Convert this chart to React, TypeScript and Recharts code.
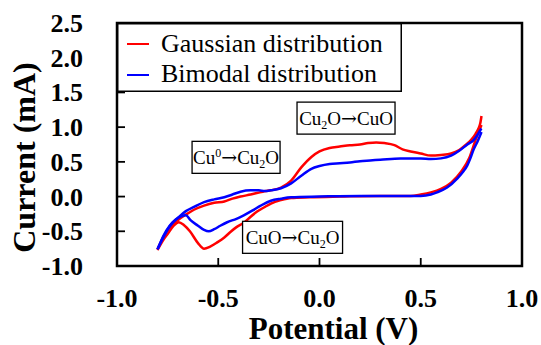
import { LineChart, Line, XAxis, YAxis, ReferenceArea, ReferenceDot, Legend } from 'recharts';

const SERIF = '"Times New Roman", "Liberation Serif", Times, serif';

type Pt = { v: number; i: number };
const toPts = (rows: number[][]): Pt[] => rows.map(([v, i]) => ({ v, i }));

// potential (V), current (mA)
const gaussianAnodic = toPts([
  [-0.8, -0.76], [-0.77, -0.58], [-0.74, -0.45], [-0.7, -0.34], [-0.66, -0.26], [-0.62, -0.19],
  [-0.57, -0.13], [-0.52, -0.09], [-0.47, -0.07], [-0.43, -0.03], [-0.39, 0.0], [-0.34, 0.03],
  [-0.28, 0.07], [-0.24, 0.09], [-0.19, 0.13], [-0.14, 0.23], [-0.09, 0.42], [-0.04, 0.57],
  [0.0, 0.65], [0.05, 0.7], [0.1, 0.72], [0.15, 0.74], [0.2, 0.75], [0.24, 0.77], [0.28, 0.78],
  [0.32, 0.77], [0.37, 0.74], [0.41, 0.68], [0.45, 0.65], [0.5, 0.62], [0.55, 0.59], [0.6, 0.6],
  [0.65, 0.62], [0.69, 0.67], [0.72, 0.74], [0.75, 0.82], [0.77, 0.9], [0.785, 0.98],
  [0.795, 1.07], [0.8, 1.16],
]);

const gaussianCathodic = toPts([
  [-0.8, -0.77], [-0.77, -0.62], [-0.75, -0.54], [-0.72, -0.42], [-0.695, -0.37], [-0.67, -0.41],
  [-0.64, -0.5], [-0.6, -0.67], [-0.57, -0.75], [-0.54, -0.72], [-0.505, -0.66], [-0.47, -0.59],
  [-0.44, -0.51], [-0.41, -0.44], [-0.37, -0.37], [-0.34, -0.29], [-0.31, -0.22], [-0.27, -0.15],
  [-0.24, -0.1], [-0.19, -0.05], [-0.14, -0.02], [-0.05, -0.01], [0.1, 0.0], [0.3, 0.01],
  [0.45, 0.01], [0.5, 0.03], [0.55, 0.06], [0.6, 0.11], [0.65, 0.2], [0.7, 0.36], [0.74, 0.56],
  [0.77, 0.81], [0.8, 1.03],
]);

const bimodalAnodic = toPts([
  [-0.8, -0.76], [-0.77, -0.56], [-0.74, -0.42], [-0.7, -0.31], [-0.66, -0.21], [-0.62, -0.15],
  [-0.57, -0.08], [-0.52, -0.04], [-0.47, -0.01], [-0.43, 0.03], [-0.39, 0.07], [-0.34, 0.09],
  [-0.3, 0.09], [-0.27, 0.08], [-0.24, 0.09], [-0.19, 0.12], [-0.14, 0.19], [-0.09, 0.3],
  [-0.04, 0.4], [0.0, 0.44], [0.05, 0.47], [0.1, 0.48], [0.15, 0.49], [0.2, 0.51], [0.25, 0.52],
  [0.3, 0.53], [0.4, 0.55], [0.5, 0.55], [0.55, 0.54], [0.6, 0.55], [0.65, 0.59], [0.69, 0.66],
  [0.73, 0.75], [0.76, 0.81], [0.78, 0.89], [0.795, 0.96], [0.8, 0.98],
]);

const bimodalCathodic = toPts([
  [-0.8, -0.76], [-0.77, -0.58], [-0.74, -0.43], [-0.71, -0.33], [-0.68, -0.28], [-0.66, -0.27],
  [-0.637, -0.34], [-0.6, -0.42], [-0.57, -0.48], [-0.547, -0.5], [-0.52, -0.47], [-0.49, -0.42],
  [-0.456, -0.37], [-0.41, -0.32], [-0.374, -0.27], [-0.33, -0.2], [-0.29, -0.13], [-0.24, -0.06],
  [-0.19, -0.03], [-0.14, -0.01], [0.0, 0.0], [0.2, 0.01], [0.4, 0.01], [0.5, 0.01], [0.55, 0.03],
  [0.58, 0.06], [0.63, 0.13], [0.68, 0.26], [0.71, 0.36], [0.73, 0.45], [0.745, 0.55],
  [0.76, 0.67], [0.78, 0.79], [0.8, 0.93],
]);

const xTicks = [-1.0, -0.5, 0.0, 0.5, 1.0];
const yTicks = [-1.0, -0.5, 0.0, 0.5, 1.0, 1.5, 2.0, 2.5];

type Seg = { t: string; pos?: 'sub' | 'sup' | 'arrow' };
type Note = { v: number; i: number; w: number; parts: Seg[] };

const notes: Note[] = [
  { v: 0.131, i: 1.13, w: 98, parts: [{ t: 'Cu' }, { t: '2', pos: 'sub' }, { t: 'O' }, { t: '→', pos: 'arrow' }, { t: 'CuO' }] },
  { v: -0.412, i: 0.565, w: 88, parts: [{ t: 'Cu' }, { t: '0', pos: 'sup' }, { t: '→', pos: 'arrow' }, { t: 'Cu' }, { t: '2', pos: 'sub' }, { t: 'O' }] },
  { v: -0.133, i: -0.587, w: 100, parts: [{ t: 'CuO' }, { t: '→', pos: 'arrow' }, { t: 'Cu' }, { t: '2', pos: 'sub' }, { t: 'O' }] },
];

const series = [
  { name: 'Gaussian distribution', color: '#ff0000' },
  { name: 'Bimodal distribution', color: '#0000ff' },
];

function NoteBox({ cx, cy, note }: { cx: number; cy: number; note: Note }) {
  let shift = 0;
  return (
    <g>
      <rect x={cx - note.w / 2} y={cy - 16} width={note.w} height={32} fill="#fff" stroke="#000" strokeWidth={1.3} />
      <text x={cx} y={cy + 7} textAnchor="middle" fontSize={19} fontFamily={SERIF} fill="#000">
        {note.parts.map((p, k) => {
          const target = p.pos === 'sub' ? 4 : p.pos === 'sup' ? -7 : 0;
          const dy = target - shift;
          shift = target;
          const size = p.pos === 'sub' || p.pos === 'sup' ? 12 : 19;
          return (
            <tspan
              key={k}
              dy={dy}
              fontSize={size}
              fontFamily={p.pos === 'arrow' ? '"DejaVu Serif", serif' : undefined}
            >
              {p.t}
            </tspan>
          );
        })}
      </text>
    </g>
  );
}

const YTick = ({ x, y, payload }: any) => (
  <text x={x} y={y} dy={9} textAnchor="end" fontSize={26} fontWeight="bold" fontFamily={SERIF} fill="#000">
    {Number(payload.value).toFixed(1)}
  </text>
);

const XTick = ({ x, y, payload }: any) => (
  <text x={x} y={y} textAnchor="middle" fontSize={26} fontWeight="bold" fontFamily={SERIF} fill="#000">
    {Number(payload.value).toFixed(1)}
  </text>
);

function LegendBox() {
  return (
    <svg width={285} height={69} style={{ display: 'block' }}>
      <rect x={0.75} y={0.75} width={283.5} height={67.5} fill="#fff" stroke="#000" strokeWidth={1.5} />
      {series.map((s, k) => (
        <g key={s.name}>
          <line x1={10} x2={32} y1={21 + k * 31} y2={21 + k * 31} stroke={s.color} strokeWidth={2} />
          <text x={44} y={29 + k * 30} fontSize={26} fontFamily={SERIF} fill="#000">
            {s.name}
          </text>
        </g>
      ))}
    </svg>
  );
}

export default function App() {
  return (
    <div style={{ position: 'absolute', left: 0, top: 0, width: 541, height: 345, background: '#fff' }}>
      <LineChart width={541} height={345} margin={{ top: 23, right: 19, bottom: 0, left: 0 }}>
        <XAxis
          dataKey="v"
          type="number"
          domain={[-1, 1]}
          ticks={xTicks}
          interval={0}
          height={79}
          axisLine={false}
          tickLine={{ stroke: '#000', strokeWidth: 1.8 }}
          tickSize={-8}
          tickMargin={49}
          tick={<XTick />}
          label={{
            content: ({ viewBox }: any) => (
              <text
                x={viewBox.x + viewBox.width / 2 + 14}
                y={viewBox.y + 73}
                textAnchor="middle"
                fontSize={31}
                fontWeight="bold"
                fontFamily={SERIF}
                fill="#000"
              >
                Potential (V)
              </text>
            ),
          }}
        />
        <YAxis
          type="number"
          domain={[-1, 2.5]}
          ticks={yTicks}
          interval={0}
          width={117}
          axisLine={false}
          tickLine={{ stroke: '#000', strokeWidth: 1.8 }}
          tickSize={-8}
          tickMargin={42}
          tick={<YTick />}
          label={{
            content: ({ viewBox }: any) => {
              const cx = viewBox.x + 24;
              const cy = viewBox.y + viewBox.height / 2 + 13;
              return (
                <text
                  x={cx}
                  y={cy}
                  transform={`rotate(-90 ${cx} ${cy})`}
                  textAnchor="middle"
                  dominantBaseline="central"
                  fontSize={32}
                  fontWeight="bold"
                  fontFamily={SERIF}
                  fill="#000"
                >
                  Current (mA)
                </text>
              );
            },
          }}
        />
        <ReferenceArea x1={-1} x2={1} y1={-1} y2={2.5} fill="none" stroke="#000" strokeWidth={2.5} />
        <Line data={gaussianAnodic} dataKey="i" type="monotone" stroke="#ff0000" strokeWidth={2.5} dot={false} isAnimationActive={false} />
        <Line data={gaussianCathodic} dataKey="i" type="monotone" stroke="#ff0000" strokeWidth={2.5} dot={false} isAnimationActive={false} />
        <Line data={bimodalAnodic} dataKey="i" type="monotone" stroke="#0000ff" strokeWidth={2.5} dot={false} isAnimationActive={false} />
        <Line data={bimodalCathodic} dataKey="i" type="monotone" stroke="#0000ff" strokeWidth={2.5} dot={false} isAnimationActive={false} />
        {notes.map((n, k) => (
          <ReferenceDot key={k} x={n.v} y={n.i} r={0} shape={(p: any) => <NoteBox cx={p.cx} cy={p.cy} note={n} />} />
        ))}
        <Legend
          layout="vertical"
          align="center"
          verticalAlign="middle"
          content={() => <LegendBox />}
          wrapperStyle={{ left: 117, top: 23, width: 285, height: 69 }}
        />
      </LineChart>
    </div>
  );
}
